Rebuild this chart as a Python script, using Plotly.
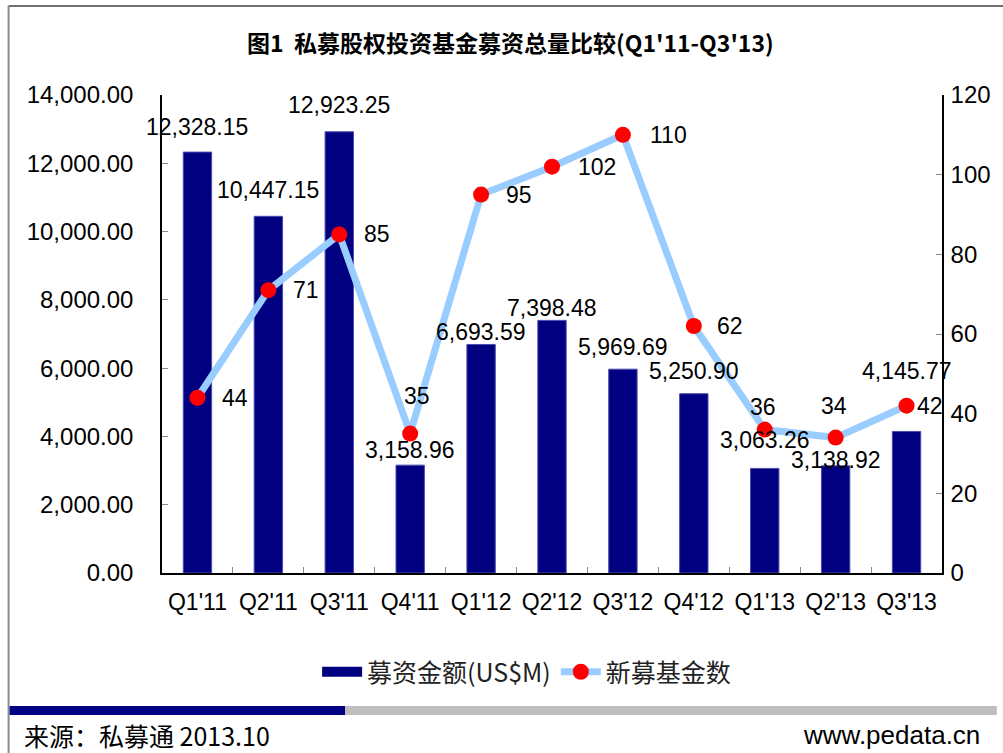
import plotly.graph_objects as go

# ---- data ----
categories = ["Q1'11", "Q2'11", "Q3'11", "Q4'11", "Q1'12", "Q2'12",
              "Q3'12", "Q4'12", "Q1'13", "Q2'13", "Q3'13"]
fund_amount = [12328.15, 10447.15, 12923.25, 3158.96, 6693.59, 7398.48,
               5969.69, 5250.90, 3063.26, 3138.92, 4145.77]
fund_count = [44, 71, 85, 35, 95, 102, 110, 62, 36, 34, 42]

title_text = "图1  私募股权投资基金募资总量比较(Q1'11-Q3'13)"
bar_name = "募资金额(US$M)"
line_name = "新募基金数"
source_text = "来源：私募通 2013.10"
site_text = "www.pedata.cn"

# ---- label offsets (pixels, styling only) ----
bar_label_dy = [25, 26, 27, 15, 12, 12, 22, 23, 28, 6, 60]
line_label_dx = [38, 38, 38, 7, 38, 45, 46, 36, -2, -2, 23]
line_label_dy = [0, 0, 0, 38, 0, 0, 0, 0, 23, 32, 0]

# ---- geometry ----
W, H = 1003, 753
L, R, T, B = 162, 945, 95, 573
pw, ph = R - L, B - T


def px(x):
    return (x - L) / pw


def py(y):
    return (B - y) / ph


FONT = "Liberation Sans, Arial, Noto Sans CJK SC, sans-serif"
CJK = "Noto Sans CJK SC, Liberation Sans, sans-serif"

fig = go.Figure()

# legend proxy for the bars
fig.add_trace(go.Scatter(
    x=[None], y=[None], mode="lines", name=bar_name,
    line=dict(color="#000080", width=13), showlegend=True,
))

fig.add_trace(go.Bar(
    x=categories, y=fund_amount, name=bar_name, showlegend=False,
    marker=dict(color="#000080", line=dict(color="#4B4BB0", width=1)),
    width=0.4, hoverinfo="x+y",
))

fig.add_trace(go.Scatter(
    x=categories, y=fund_count, name=line_name, yaxis="y2",
    mode="lines+markers",
    line=dict(color="#99CCFF", width=7),
    marker=dict(color="#FF0000", size=16, line=dict(width=0)),
))

annotations = []
for c, v, dy in zip(categories, fund_amount, bar_label_dy):
    annotations.append(dict(
        x=c, y=v, xref="x", yref="y", text=f"{v:,.2f}", showarrow=False,
        xanchor="center", yanchor="middle", yshift=dy,
        font=dict(family=FONT, size=23, color="black"),
    ))
for c, v, dx, dy in zip(categories, fund_count, line_label_dx, line_label_dy):
    annotations.append(dict(
        x=c, y=v, xref="x", yref="y2", text=str(v), showarrow=False,
        xanchor="center", yanchor="middle", xshift=dx, yshift=dy,
        font=dict(family=FONT, size=23, color="black"),
    ))

annotations.append(dict(
    x=px(512), y=py(42), xref="paper", yref="paper", text=f"<b>{title_text}</b>",
    showarrow=False, xanchor="center", yanchor="middle",
    font=dict(family=CJK, size=23, color="black"),
))
annotations.append(dict(
    x=px(21), y=py(735), xref="paper", yref="paper", text=source_text,
    showarrow=False, xanchor="left", yanchor="middle",
    font=dict(family=CJK, size=25, color="black"),
))
annotations.append(dict(
    x=px(985), y=py(735), xref="paper", yref="paper", text=site_text,
    showarrow=False, xanchor="right", yanchor="middle",
    font=dict(family=FONT, size=26, color="black"),
))

shapes = [
    # frame
    dict(type="line", xref="paper", yref="paper", x0=px(8), x1=px(8),
         y0=py(6), y1=py(770), line=dict(color="#8C8C8C", width=2)),
    dict(type="line", xref="paper", yref="paper", x0=px(8), x1=px(1010),
         y0=py(6), y1=py(6), line=dict(color="#707070", width=2)),
    # footer bars
    dict(type="rect", xref="paper", yref="paper", x0=px(9), x1=px(346),
         y0=py(715), y1=py(706), fillcolor="#000080", line=dict(width=0)),
    dict(type="rect", xref="paper", yref="paper", x0=px(346), x1=px(1000),
         y0=py(715), y1=py(706), fillcolor="#BEBEBE", line=dict(width=0)),
]

fig.update_layout(
    width=W, height=H, autosize=False,
    margin=dict(l=L, r=W - R, t=T, b=H - B, pad=0),
    plot_bgcolor="white", paper_bgcolor="white",
    font=dict(family=FONT, size=22, color="black"),
    showlegend=True,
    legend=dict(
        orientation="h", x=px(528), y=py(672), xanchor="center", yanchor="middle",
        font=dict(family=CJK, size=25, color="#222222"),
        bgcolor="rgba(0,0,0,0)", itemwidth=40, traceorder="normal",
    ),
    xaxis=dict(
        type="category", range=[-0.5, 10.5], tickson="boundaries",
        ticks="inside", ticklen=6, tickcolor="#888888",
        showline=True, linecolor="black", linewidth=1.5, showgrid=False,
        tickfont=dict(family=FONT, size=23), ticklabelstandoff=8,
    ),
    yaxis=dict(
        range=[0, 14000], dtick=2000, tickformat=",.2f",
        ticks="inside", ticklen=6, tickcolor="#888888",
        showline=True, linecolor="black", linewidth=1.5, showgrid=False,
        zeroline=False, tickfont=dict(family=FONT, size=24),
        ticklabelstandoff=22,
    ),
    yaxis2=dict(
        overlaying="y", side="right", range=[0, 120], dtick=20,
        ticks="inside", ticklen=6, tickcolor="#888888",
        showline=True, linecolor="black", linewidth=1.5, showgrid=False,
        zeroline=False, tickfont=dict(family=FONT, size=24),
        ticklabelstandoff=2,
    ),
    annotations=annotations,
    shapes=shapes,
    bargap=0.6,
)

fig.write_html(
    "out.html",
    config={"displayModeBar": False},
    post_script="document.body.style.margin='0';document.body.style.overflow='hidden';",
)
